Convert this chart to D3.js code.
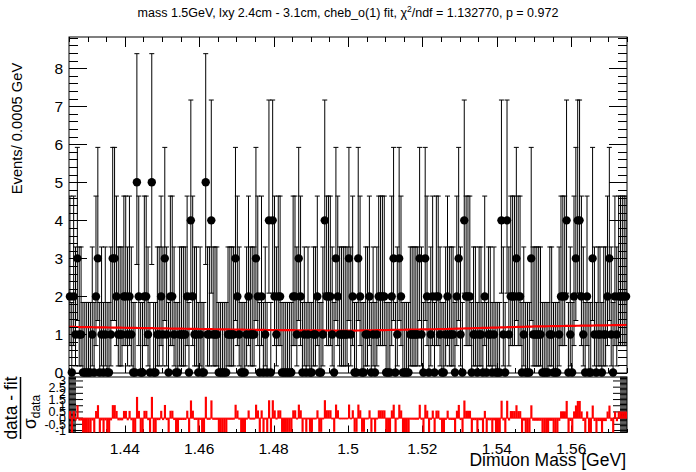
<!DOCTYPE html>
<html><head><meta charset="utf-8">
<script src="https://cdn.jsdelivr.net/npm/d3@7"></script>
<style>body{margin:0;background:#fff}svg text{font-family:"Liberation Sans",Arial,sans-serif}</style>
</head><body><svg id="c" width="696" height="472"></svg>
<script>
// ---- data ----
const binLow = 1.425, binHigh = 1.575, binWidth = 0.0005;
const counts = [
2,0,2,1,3,1,1,0,0,0, 0,0,1,0,2,3,0,1,0,1, 0,0,1,3,3,2,1,1,1,2, 2,1,2,1,0,0,5,2,0,0, 2,2,1,0,5,0,0,1,1,2,
1,3,1,0,2,2,1,0,0,1, 1,1,1,2,0,4,2,1,1,0, 1,0,0,5,1,1,4,1,1,1, 0,0,0,0,0,1,1,1,1,3, 2,1,0,0,0,1,2,1,1,1,
3,2,0,2,0,1,0,4,0,4, 2,1,2,2,0,0,0,0,0,0, 2,2,1,3,2,0,1,0,1,0, 0,1,1,2,0,0,1,4,2,2, 2,1,0,3,2,1,1,1,1,1,
3,1,2,0,0,3,2,0,0,1, 1,2,0,1,0,1,2,2,2,2, 0,0,0,2,3,0,1,3,2,0, 0,0,0,1,1,1,1,1,3,1, 0,3,2,0,1,2,0,2,2,1,
0,0,1,2,1,1,1,0,2,3, 1,0,4,2,2,2,0,1,1,0, 1,1,0,2,0,1,1,0,1,0, 0,0,4,1,0,4,1,2,2,2, 3,2,2,0,1,0,0,0,3,1,
1,1,1,1,0,0,0,0,1,1, 0,0,0,1,2,2,2,4,0,1, 0,2,3,4,4,2,1,0,2,0, 0,3,1,0,1,1,0,1,1,2, 3,1,0,2,1,2,2,2,2,2
];
const fitX = [1.425, 1.45, 1.475, 1.5, 1.525, 1.55, 1.575];
const fitY = [1.20, 1.16, 1.12, 1.10, 1.14, 1.21, 1.25];
// 68.3% Poisson (Garwood) interval edges for n = 0..5
const poisLow  = [0, 0.173, 0.708, 1.367, 2.086, 2.840];
const poisHigh = [1.841, 3.300, 4.638, 5.918, 7.163, 8.382];
const xTicks = [1.44, 1.46, 1.48, 1.5, 1.52, 1.54, 1.56];
const yTicks = [0, 1, 2, 3, 4, 5, 6, 7, 8];
const resTicks = [-1, -0.5, 0, 0.5, 1, 1.5, 2, 2.5, 3];
const titleText = "mass 1.5GeV, lxy 2.4cm - 3.1cm, cheb_o(1) fit, \u03C7";

// ---- layout ----
const L = 69, R = 627, T = 37, B = 373, RT = 377, RB = 432.5;
const svg = d3.select("#c");
const x = d3.scaleLinear().domain([binLow, binHigh]).range([L, R]);
const y = d3.scaleLinear().domain([0, 8.82]).range([B - 0.5, T]);
const yr = d3.scaleLinear().domain([-1.16, 3.32]).range([RB, RT]);

const bins = counts.map((n, i) => ({lo: binLow + i * binWidth, hi: binLow + (i + 1) * binWidth, n}));
bins.forEach(d => d.c = (d.lo + d.hi) / 2);
const fit = d3.scaleLinear().domain(fitX).range(fitY);

// title
const tt = svg.append("text").attr("x", 348).attr("y", 17).attr("text-anchor", "middle").attr("font-size", 12.5);
tt.append("tspan").text(titleText);
tt.append("tspan").attr("dy", -5).attr("font-size", 8.5).text("2");
tt.append("tspan").attr("dy", 5).text("/ndf = 1.132770, p = 0.972");

// main plot clip
svg.append("clipPath").attr("id", "mc").append("rect").attr("x", L).attr("y", T).attr("width", R - L).attr("height", B - T + 1);
const g = svg.append("g").attr("clip-path", "url(#mc)");

// error bars
const eb = g.append("g").attr("stroke", "#000").attr("stroke-width", 1).attr("fill", "none");
bins.forEach(d => {
  const cx = x(d.c), lo = y(poisLow[d.n]), hi = y(poisHigh[d.n]), yc = y(d.n);
  eb.append("line").attr("x1", cx).attr("x2", cx).attr("y1", lo).attr("y2", hi);
  eb.append("line").attr("x1", cx - 2.5).attr("x2", cx + 2.5).attr("y1", hi).attr("y2", hi);
  eb.append("line").attr("x1", cx - 2.5).attr("x2", cx + 2.5).attr("y1", lo).attr("y2", lo);
  eb.append("line").attr("x1", x(d.lo)).attr("x2", x(d.hi)).attr("y1", yc).attr("y2", yc);
});

// fit curve
const fitLine = d3.line().x(d => x(d)).y(d => y(fit(d))).curve(d3.curveLinear);
const fitPts = d3.range(0, 301).map(i => binLow + i * binWidth);
g.append("path").datum(fitPts).attr("d", fitLine).attr("fill", "none").attr("stroke", "#ff0000").attr("stroke-width", 2.2);

// frames
svg.append("rect").attr("x", L).attr("y", T).attr("width", R - L).attr("height", B - T).attr("fill", "none").attr("stroke", "#000");
svg.append("rect").attr("x", L).attr("y", RT).attr("width", R - L).attr("height", RB - RT).attr("fill", "none").attr("stroke", "#000");

// x ticks (main top/bottom, residual bottom)
const xMinor = d3.range(0, 31).map(i => binLow + i * 0.005);
const tk = svg.append("g").attr("stroke", "#000").attr("stroke-width", 1);
xMinor.forEach(v => {
  const major = xTicks.some(t => Math.abs(t - v) < 1e-6);
  const px = Math.round(x(v)) + 0.5;
  const len = major ? 10 : 5;
  tk.append("line").attr("x1", px).attr("x2", px).attr("y1", T).attr("y2", T + len);
  tk.append("line").attr("x1", px).attr("x2", px).attr("y1", B).attr("y2", B - len);
  tk.append("line").attr("x1", px).attr("x2", px).attr("y1", RB).attr("y2", RB - (major ? 7 : 3.5));
});
// y ticks main
d3.range(0, 45).map(i => i * 0.2).forEach((v, i) => {
  if (v > 8.82) return;
  const major = i % 5 === 0;
  const py = Math.round(y(v)) + 0.5;
  const len = major ? 18 : 9;
  tk.append("line").attr("x1", L).attr("x2", L + len).attr("y1", py).attr("y2", py);
  tk.append("line").attr("x1", R).attr("x2", R - len).attr("y1", py).attr("y2", py);
});
// residual y ticks
d3.range(-11, 34).map(i => i * 0.1).forEach((v) => {
  const major = Math.abs(v * 2 - Math.round(v * 2)) < 1e-6;
  const py = yr(v);
  const len = major ? 14 : 7;
  tk.append("line").attr("x1", L).attr("x2", L + len).attr("y1", py).attr("y2", py);
  tk.append("line").attr("x1", R).attr("x2", R - len).attr("y1", py).attr("y2", py);
});

// residual bars
svg.append("clipPath").attr("id", "rc").append("rect").attr("x", L).attr("y", RT).attr("width", R - L).attr("height", RB - RT);
const pull = d => (d.n - fit(d.c)) / Math.sqrt(Math.max(d.n, 1));
svg.append("g").attr("clip-path", "url(#rc)").selectAll("rect").data(bins).join("rect")
  .attr("x", d => x(d.lo)).attr("width", d => x(d.hi) - x(d.lo) + 0.3)
  .attr("y", d => Math.min(yr(0), yr(pull(d)))).attr("height", d => Math.abs(yr(pull(d)) - yr(0)))
  .attr("fill", "#ff0000");
svg.append("line").attr("x1", L).attr("x2", R).attr("y1", yr(0)).attr("y2", yr(0)).attr("stroke", "#ff0000").attr("stroke-width", 1);

// markers (drawn unclipped, on top)
svg.append("g").selectAll("circle").data(bins).join("circle")
  .attr("cx", d => x(d.c)).attr("cy", d => y(d.n)).attr("r", 4.2).attr("fill", "#000");

// tick labels
svg.append("g").selectAll("text").data(yTicks).join("text")
  .attr("x", 63).attr("y", d => y(d) + 5.5).attr("text-anchor", "end").attr("font-size", 15.5).text(d => d);
svg.append("g").selectAll("text").data(xTicks).join("text")
  .attr("x", d => x(d)).attr("y", 454).attr("text-anchor", "middle").attr("font-size", 15.5).text(d => d3.format("")(d));
svg.append("g").selectAll("text").data(resTicks).join("text")
  .attr("x", 66).attr("y", d => yr(d) + 4.5).attr("text-anchor", "end").attr("font-size", 12.5).text(d => d);

// axis titles
svg.append("text").attr("transform", "translate(22,128.5) rotate(-90)").attr("text-anchor", "middle").attr("font-size", 14.7).text("Events/ 0.0005 GeV");
svg.append("text").attr("x", 626).attr("y", 466).attr("text-anchor", "end").attr("font-size", 17.5).text("Dimuon Mass [GeV]");
const rl = svg.append("g").attr("transform", "translate(0,408) rotate(-90)");
rl.append("text").attr("x", 0).attr("y", 17).attr("text-anchor", "middle").attr("font-size", 17.5).text("data - fit");
rl.append("line").attr("x1", -31).attr("x2", 31).attr("y1", 20.5).attr("y2", 20.5).attr("stroke", "#000").attr("stroke-width", 1.5);
const sg = rl.append("text").attr("x", -4).attr("y", 36).attr("text-anchor", "middle").attr("font-size", 17.5);
sg.append("tspan").text("\u03C3");
sg.append("tspan").attr("dy", 4).attr("font-size", 12).text("data");
</script></body></html>
